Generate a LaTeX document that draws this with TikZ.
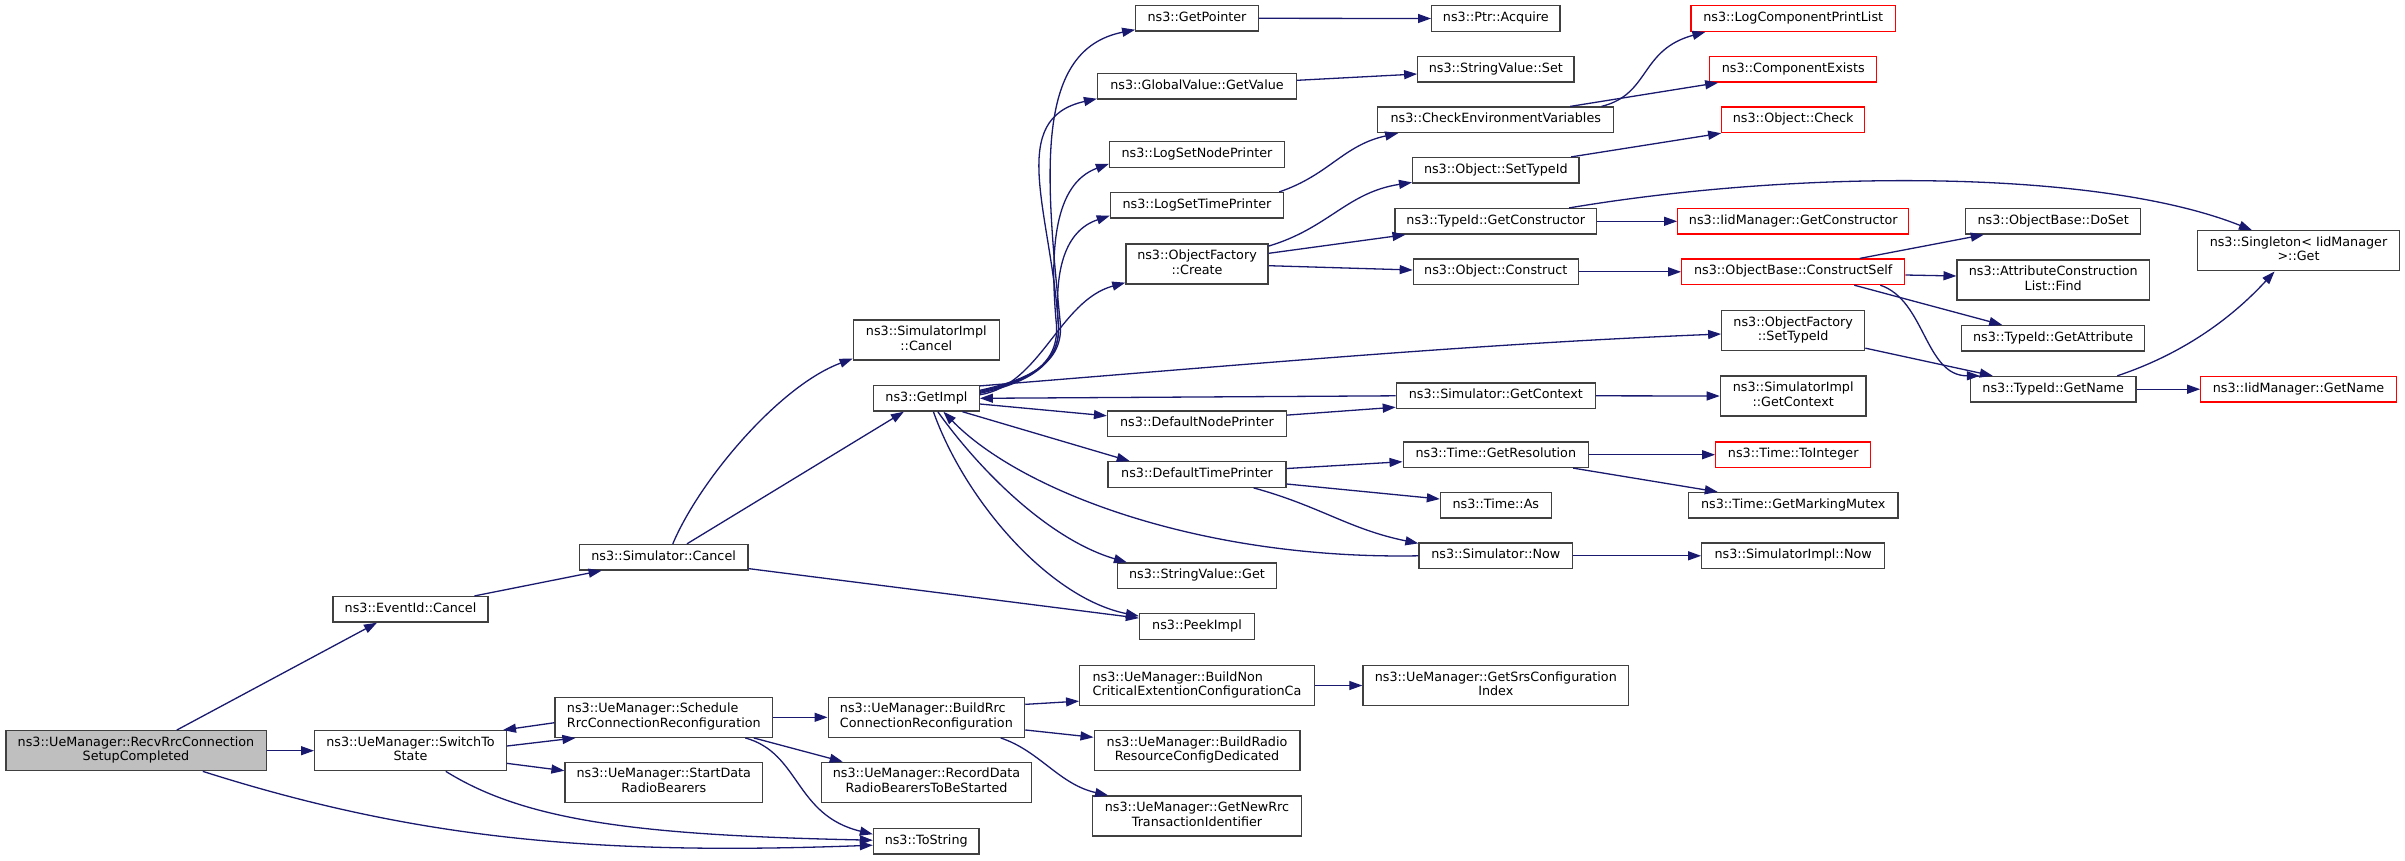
\documentclass[tikz,border=0pt]{standalone}
\usepackage{fontspec}
\setmainfont{DejaVu Sans}
\usetikzlibrary{arrows.meta}
\definecolor{edgeblue}{RGB}{25,25,112}
\definecolor{nodegray}{RGB}{64,64,64}
\definecolor{rootfill}{RGB}{191,191,191}
\definecolor{rednode}{RGB}{255,0,0}
\newcommand\NodeOne[1]{\begin{tabular}{@{}c@{}}#1\end{tabular}}
\newcommand\NodeTwo[2]{\begin{tabular}{@{}l@{}}#1\\\multicolumn{1}{@{}c@{}}{#2}\end{tabular}}
\tikzset{
  fn/.style={draw=nodegray, line width=1.3pt, fill=white, inner sep=0pt, minimum height=25.5pt,
    font=\fontsize{12.75}{14.5}\selectfont},
  fn2/.style={fn, minimum height=40pt},
  redn/.style={draw=rednode},
  ca/.style={draw=edgeblue, line width=1.3pt, -{Triangle[length=13pt,width=9pt]}}
}
\begin{document}
\begin{tikzpicture}[x=1pt,y=-1pt]
\fill[white] (0,0) rectangle (2405,860);
\useasboundingbox (0,0) rectangle (2405,860);
% column 0-3
\node[fn2, fill=rootfill, minimum width=260.3pt] (root) at (136,750.7) {\NodeTwo{ns3::UeManager::RecvRrcConnection}{SetupCompleted}};
\node[fn, minimum width=155pt] (evc) at (410.5,609.3) {\NodeOne{ns3::EventId::Cancel}};
\node[fn2, minimum width=191.7pt] (sw) at (410.5,750.7) {\NodeTwo{ns3::UeManager::SwitchTo}{State}};
\node[fn, minimum width=168.5pt] (simc) at (663.6,557.2) {\NodeOne{ns3::Simulator::Cancel}};
\node[fn2, minimum width=217.5pt] (sched) at (663.8,717.3) {\NodeTwo{ns3::UeManager::Schedule}{RrcConnectionReconfiguration}};
\node[fn2, minimum width=197.5pt] (start) at (663.8,782.3) {\NodeTwo{ns3::UeManager::StartData}{RadioBearers}};
\node[fn2, minimum width=146.1pt] (simic) at (926.3,340) {\NodeTwo{ns3::SimulatorImpl}{::Cancel}};
\node[fn, minimum width=105.7pt] (getimpl) at (926.4,398.3) {\NodeOne{ns3::GetImpl}};
\node[fn2, minimum width=196.4pt] (build) at (926.4,717.3) {\NodeTwo{ns3::UeManager::BuildRrc}{ConnectionReconfiguration}};
\node[fn2, minimum width=210.3pt] (record) at (926.5,782.3) {\NodeTwo{ns3::UeManager::RecordData}{RadioBearersToBeStarted}};
\node[fn, minimum width=105.4pt] (tostr) at (926.2,841.2) {\NodeOne{ns3::ToString}};
% column 4
\node[fn, minimum width=122.5pt] (getptr) at (1197,18.3) {\NodeOne{ns3::GetPointer}};
\node[fn, minimum width=198.9pt] (getval) at (1197,86.3) {\NodeOne{ns3::GlobalValue::GetValue}};
\node[fn, minimum width=175pt] (lsnp) at (1197,154.5) {\NodeOne{ns3::LogSetNodePrinter}};
\node[fn, minimum width=173.2pt] (lstp) at (1197,205.3) {\NodeOne{ns3::LogSetTimePrinter}};
\node[fn2, minimum width=142.2pt] (create) at (1197,264) {\NodeTwo{ns3::ObjectFactory}{::Create}};
\node[fn, minimum width=178.9pt] (dnp) at (1197,423.8) {\NodeOne{ns3::DefaultNodePrinter}};
\node[fn, minimum width=178.2pt] (dtp) at (1197,474.5) {\NodeOne{ns3::DefaultTimePrinter}};
\node[fn, minimum width=158.9pt] (svget) at (1197,575.8) {\NodeOne{ns3::StringValue::Get}};
\node[fn, minimum width=115pt] (peek) at (1197,626.5) {\NodeOne{ns3::PeekImpl}};
\node[fn2, minimum width=234.6pt] (bnon) at (1197,685.5) {\NodeTwo{ns3::UeManager::BuildNon}{CriticalExtentionConfigurationCa}};
\node[fn2, minimum width=205.7pt] (bradio) at (1197,750.7) {\NodeTwo{ns3::UeManager::BuildRadio}{ResourceConfigDedicated}};
\node[fn2, minimum width=208.5pt] (gnrrc) at (1197,816) {\NodeTwo{ns3::UeManager::GetNewRrc}{TransactionIdentifier}};
% column 5
\node[fn, minimum width=128.2pt] (acq) at (1495.8,18.5) {\NodeOne{ns3::Ptr::Acquire}};
\node[fn, minimum width=156.1pt] (svset) at (1495.8,69.3) {\NodeOne{ns3::StringValue::Set}};
\node[fn, minimum width=236pt] (cev) at (1495.8,119.8) {\NodeOne{ns3::CheckEnvironmentVariables}};
\node[fn, minimum width=166.4pt] (osti) at (1495.8,170.3) {\NodeOne{ns3::Object::SetTypeId}};
\node[fn, minimum width=201.4pt] (tgc) at (1495.8,221.3) {\NodeOne{ns3::TypeId::GetConstructor}};
\node[fn, minimum width=165pt] (ocons) at (1495.8,271.8) {\NodeOne{ns3::Object::Construct}};
\node[fn, minimum width=198.9pt] (sgc) at (1495.8,395.8) {\NodeOne{ns3::Simulator::GetContext}};
\node[fn, minimum width=185.3pt] (gres) at (1495.8,454.7) {\NodeOne{ns3::Time::GetResolution}};
\node[fn, minimum width=110.7pt] (tas) at (1495.8,505.3) {\NodeOne{ns3::Time::As}};
\node[fn, minimum width=153.6pt] (snow) at (1495.8,555.8) {\NodeOne{ns3::Simulator::Now}};
\node[fn2, minimum width=265.7pt] (gsrs) at (1495.8,685.5) {\NodeTwo{ns3::UeManager::GetSrsConfiguration}{Index}};
% column 6
\node[fn, redn, minimum width=204.3pt] (lcpl) at (1793.2,18.5) {\NodeOne{ns3::LogComponentPrintList}};
\node[fn, redn, minimum width=166.8pt] (cex) at (1793.2,69.3) {\NodeOne{ns3::ComponentExists}};
\node[fn, redn, minimum width=142.9pt] (ochk) at (1793.2,119.8) {\NodeOne{ns3::Object::Check}};
\node[fn, redn, minimum width=230.9pt] (igc) at (1793.2,221.3) {\NodeOne{ns3::IidManager::GetConstructor}};
\node[fn, redn, minimum width=222.9pt] (cself) at (1793.2,271.8) {\NodeOne{ns3::ObjectBase::ConstructSelf}};
\node[fn2, minimum width=142.9pt] (ofst) at (1793.2,330.5) {\NodeTwo{ns3::ObjectFactory}{::SetTypeId}};
\node[fn2, minimum width=145.7pt] (sigc) at (1793.2,396) {\NodeTwo{ns3::SimulatorImpl}{::GetContext}};
\node[fn, redn, minimum width=154.9pt] (toint) at (1793.2,454.7) {\NodeOne{ns3::Time::ToInteger}};
\node[fn, minimum width=209.6pt] (gmm) at (1793.2,505.3) {\NodeOne{ns3::Time::GetMarkingMutex}};
\node[fn, minimum width=182.9pt] (sinow) at (1793.2,555.8) {\NodeOne{ns3::SimulatorImpl::Now}};
% column 7-8
\node[fn, minimum width=175pt] (doset) at (2053.2,221.3) {\NodeOne{ns3::ObjectBase::DoSet}};
\node[fn2, minimum width=192.2pt] (acl) at (2053.2,280) {\NodeTwo{ns3::AttributeConstruction}{List::Find}};
\node[fn, minimum width=182.8pt] (gattr) at (2053.2,338.3) {\NodeOne{ns3::TypeId::GetAttribute}};
\node[fn, minimum width=165.6pt] (gname) at (2053.2,389.2) {\NodeOne{ns3::TypeId::GetName}};
\node[fn2, minimum width=201.8pt] (sing) at (2298.5,250.8) {\NodeTwo{ns3::Singleton< IidManager}{>::Get}};
\node[fn, redn, minimum width=195.4pt] (igname) at (2298.5,389.2) {\NodeOne{ns3::IidManager::GetName}};

% ---- edges ----
\draw[ca] ([xshift=40.8pt]root.north) -- ([xshift=-33.5pt]evc.south);
\draw[ca] (root.east) -- (sw.west);
\draw[ca] ([xshift=66.8pt]root.south) .. controls +(217,69) and +(-273,10) .. ([yshift=-4pt]tostr.west);
\draw[ca] ([xshift=64pt]evc.north) -- ([xshift=-62pt]simc.south);
\draw[ca] ([xshift=9.2pt]simc.north) .. controls +(27,-64) and +(-73,27) .. ([yshift=2pt]simic.south west);
\draw[ca] ([xshift=23.4pt]simc.north) -- ([xshift=-22.5pt]getimpl.south);
\draw[ca] ([yshift=2pt]simc.south east) -- ([yshift=-5pt]peek.north west);
\draw[ca] ([yshift=-5.4pt]sched.west) -- ([xshift=-4pt]sw.north east);
\draw[ca] ([yshift=4.7pt]sw.east) -- ([xshift=21pt]sched.south west);
\draw[ca] ([yshift=8pt]sw.south east) -- ([yshift=11.6pt]start.west);
\draw[ca] ([xshift=35.3pt]sw.south) .. controls +(80,50) and +(-233.5,-5) .. ([yshift=1pt]tostr.west);
\draw[ca] (sched.east) -- (build.west);
\draw[ca] ([xshift=90pt]sched.south) -- ([xshift=22pt]record.north west);
\draw[ca] ([xshift=81.5pt]sched.south) .. controls +(55,15) and +(-78.5,-19) .. ([yshift=7pt]tostr.west);
\draw[ca] ([yshift=-7.7pt]build.north east) -- ([yshift=5pt]bnon.south west);
\draw[ca] ([yshift=8pt]build.south east) -- ([yshift=13.4pt]bradio.west);
\draw[ca] ([xshift=74.3pt]build.south) .. controls +(39,13) and +(-49,-11) .. ([xshift=16pt]gnrrc.north west);
\draw[ca] (bnon.east) -- (gsrs.west);
% GetImpl upward bundle
\draw[ca] ([yshift=8pt]getimpl.east) .. controls +(55,-12) and +(5,40) .. (1060,320)
   .. controls +(-15,-150) and +(-100,20) .. ([yshift=2pt]getptr.south west);
\draw[ca] ([yshift=7pt]getimpl.east) .. controls +(55,-12) and +(5,40) .. (1058,320)
   .. controls +(-8,-110) and +(-90,20) .. ([yshift=1pt]getval.south west);
\draw[ca] ([yshift=6pt]getimpl.east) .. controls +(55,-12) and +(5,40) .. (1056,320)
   .. controls +(-6,-70) and +(-55,20) .. ([yshift=4pt]lsnp.south west);
\draw[ca] ([yshift=5pt]getimpl.east) .. controls +(55,-12) and +(5,40) .. (1058,320)
   .. controls +(-3,-50) and +(-45,15) .. ([yshift=3pt]lstp.south west);
\draw[ca] ([yshift=3.5pt]getimpl.east) .. controls +(61,-10) and +(-66,18) .. ([yshift=2pt]create.south west);
\draw[ca] ([yshift=-1pt]getimpl.north east) .. controls +(250,-20) and +(-250,10) .. ([yshift=-3.5pt]ofst.west);
\draw[ca] (sgc.west) -- (getimpl.east);
\draw[ca] ([yshift=-5.7pt]getimpl.east) -- ([yshift=8pt]dnp.west);
\draw[ca] ([yshift=-4.7pt]dnp.north east) -- ([yshift=2pt]sgc.south west);
\draw[ca] ([xshift=36pt]getimpl.south) -- ([xshift=22.5pt]dtp.north west);
\draw[ca] ([xshift=11.4pt]getimpl.south) .. controls +(42,59) and +(-78,-23) .. ([xshift=10pt]svget.north west);
\draw[ca] ([xshift=7pt]getimpl.south) .. controls +(31.6,89) and +(-89.6,-18) .. ([yshift=-3pt]peek.north west);
\draw[ca] (snow.west) .. controls +(-219,4) and +(76.6,79) .. ([xshift=17pt]getimpl.south);
\draw[ca] ([yshift=6pt]dtp.east) -- ([yshift=-7pt]gres.west);
\draw[ca] ([yshift=-9.5pt]dtp.east) -- ([yshift=6.3pt]tas.west);
\draw[ca] ([xshift=56.6pt]dtp.south) .. controls +(66,18) and +(-69,-14) .. ([yshift=-1pt]snow.north west);
\draw[ca] (gres.east) -- (toint.west);
\draw[ca] ([xshift=-16pt]gres.south east) -- ([xshift=30pt]gmm.north west);
\draw[ca] (sgc.east) -- (sigc.west);
\draw[ca] (snow.east) -- (sinow.west);
% upper right
\draw[ca] (getptr.east) -- (acq.west);
\draw[ca] ([yshift=6pt]getval.east) -- ([yshift=-4.7pt]svset.west);
\draw[ca] ([xshift=-5pt]lstp.north east) .. controls +(50,-17) and +(-55,12) .. ([xshift=21pt]cev.south west);
\draw[ca] ([yshift=-2.7pt]create.north east) .. controls +(60,-18) and +(-65,10) .. ([yshift=1.3pt]osti.south west);
\draw[ca] ([yshift=10.7pt]create.east) -- ([xshift=11pt]tgc.south west);
\draw[ca] ([yshift=-1.7pt]create.east) -- ([yshift=1.8pt]ocons.west);
\draw[ca] ([xshift=-13pt]cev.north east) .. controls +(49,-12) and +(-66,18) .. ([xshift=15pt]lcpl.south west);
\draw[ca] ([xshift=74.4pt]cev.north) -- ([xshift=9pt]cex.south west);
\draw[ca] ([xshift=-8.6pt]osti.north east) -- (ochk.south west);
\draw[ca] (tgc.east) -- (igc.west);
\draw[ca] ([xshift=-28pt]tgc.north east) .. controls +(232,-39) and +(-153,-61) .. ([xshift=55pt]sing.north west);
\draw[ca] (ocons.east) -- (cself.west);
\draw[ca] ([xshift=-45.5pt]cself.north east) -- ([xshift=18.7pt]doset.south west);
\draw[ca] ([yshift=-3.2pt]cself.east) -- ([yshift=4pt]acl.west);
\draw[ca] ([xshift=-51pt]cself.south east) -- ([xshift=41pt]gattr.north west);
\draw[ca] ([xshift=-25pt]cself.south east) .. controls +(45,15) and +(-55,0) .. ([xshift=10pt]gname.north west);
\draw[ca] ([yshift=3pt]ofst.south east) -- ([xshift=23pt]gname.north west);
\draw[ca] ([xshift=-19.4pt]gname.north east) .. controls +(63,-21) and +(-45,49) .. ([xshift=77.6pt]sing.south west);
\draw[ca] (gname.east) -- (igname.west);
\end{tikzpicture}
\end{document}
